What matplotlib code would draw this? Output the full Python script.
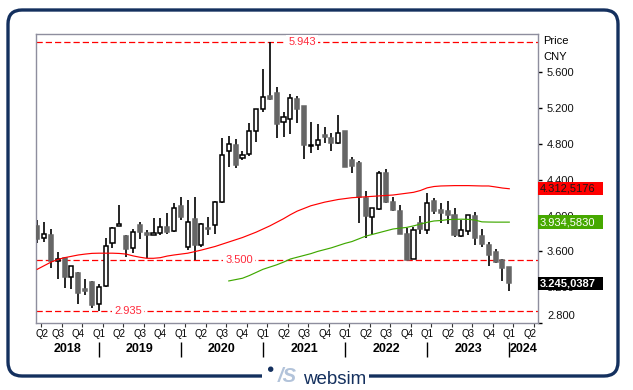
import matplotlib.pyplot as plt
from matplotlib.patches import Rectangle, FancyBboxPatch, Circle
from matplotlib.transforms import ScaledTranslation, blended_transform_factory

plt.rcParams['font.family'] = ['Liberation Sans', 'DejaVu Sans']

# monthly candles, Apr 2018 .. Jan 2024
opens = [3.884, 3.753, 3.783, 3.489, 3.523, 3.311, 3.362, 3.180, 3.261,
         3.009, 3.217, 3.690, 3.887, 3.772, 3.635, 3.895, 3.800, 3.787, 3.802, 3.869, 3.828,
         4.107, 3.653, 3.962, 3.672, 3.860, 3.895, 4.155, 4.722, 4.789, 4.640, 4.688, 4.945,
         5.188, 5.336, 5.373, 5.042, 5.076, 5.299, 5.225, 4.780, 4.785, 4.901, 4.864, 4.808,
         4.945, 4.621, 4.591, 4.193, 3.981, 4.070, 4.473, 4.155, 4.051, 3.794, 3.512, 3.921,
         3.839, 4.163, 4.063, 4.051, 4.007, 3.775, 3.831, 3.996, 3.772, 3.672, 3.593, 3.504,
         3.429]
highs = [3.951, 3.928, 3.850, 3.590, 3.541, 3.440, 3.370, 3.288, 3.273,
         3.236, 3.753, 3.870, 4.118, 3.780, 3.850, 3.932, 3.839, 3.970, 3.970, 4.026, 4.137,
         4.204, 4.174, 4.211, 3.920, 3.988, 4.163, 4.870, 4.889, 4.856, 4.725, 5.038, 5.190,
         5.635, 5.943, 5.434, 5.161, 5.359, 5.336, 5.230, 5.042, 5.023, 4.987, 4.926, 5.124,
         4.950, 4.651, 4.610, 4.275, 4.090, 4.502, 4.517, 4.211, 4.118, 3.858, 3.876, 3.999,
         4.256, 4.200, 4.137, 4.163, 4.082, 3.951, 4.007, 4.044, 3.850, 3.708, 3.623, 3.510,
         3.430]
lows = [3.697, 3.708, 3.411, 3.288, 3.194, 3.180, 3.012, 3.113, 2.964,
        2.935, 3.206, 3.635, 3.880, 3.541, 3.579, 3.735, 3.530, 3.780, 3.780, 3.794, 3.820,
        3.951, 3.616, 3.500, 3.653, 3.783, 3.794, 4.144, 4.546, 4.528, 4.621, 4.666, 4.826,
        5.161, 5.292, 4.864, 4.875, 4.908, 5.038, 4.632, 4.703, 4.733, 4.815, 4.725, 4.800,
        4.540, 4.473, 3.921, 3.746, 3.794, 4.065, 4.144, 4.055, 3.790, 3.500, 3.510, 3.794,
        3.794, 4.015, 3.921, 3.906, 3.764, 3.764, 3.783, 3.672, 3.653, 3.437, 3.467, 3.273,
        3.161]
closes = [3.742, 3.791, 3.493, 3.515, 3.317, 3.437, 3.139, 3.161, 3.001,
          3.206, 3.660, 3.865, 3.906, 3.623, 3.813, 3.820, 3.787, 3.800, 3.869, 3.813, 4.082,
          3.988, 3.925, 3.672, 3.903, 3.855, 4.149, 4.674, 4.797, 4.565, 4.677, 4.945, 5.188,
          5.329, 5.306, 5.023, 5.098, 5.311, 5.194, 4.789, 4.790, 4.845, 4.882, 4.808, 4.920,
          4.546, 4.558, 4.204, 3.996, 4.082, 4.473, 4.155, 4.063, 3.791, 3.504, 3.839, 3.850,
          4.137, 4.055, 4.032, 4.007, 3.783, 3.839, 4.007, 3.753, 3.679, 3.560, 3.485, 3.418,
          3.245]

ma_red = [3.40, 3.44, 3.48, 3.51, 3.53, 3.545, 3.56, 3.57, 3.578,
          3.58, 3.58, 3.58, 3.577, 3.57, 3.55, 3.535, 3.523, 3.523, 3.53, 3.548, 3.56,
          3.57, 3.58, 3.597, 3.615, 3.635, 3.655, 3.68, 3.705, 3.73, 3.755, 3.785, 3.815,
          3.85, 3.885, 3.925, 3.965, 4.01, 4.05, 4.08, 4.11, 4.13, 4.15, 4.165, 4.18,
          4.19, 4.20, 4.205, 4.21, 4.215, 4.22, 4.225, 4.23, 4.24, 4.25, 4.26, 4.28,
          4.31, 4.325, 4.331, 4.333, 4.335, 4.335, 4.335, 4.333, 4.331, 4.331, 4.32, 4.308,
          4.30]
green_start = 28
ma_green = [3.27, 3.285, 3.30, 3.33, 3.365,
            3.40, 3.425, 3.45, 3.48, 3.515, 3.535, 3.555, 3.575, 3.60, 3.62, 3.64, 3.665,
            3.69, 3.71, 3.74, 3.77, 3.79, 3.81, 3.83, 3.85, 3.86, 3.868, 3.885, 3.905,
            3.925, 3.94, 3.945, 3.955, 3.958, 3.96, 3.958, 3.95, 3.93, 3.928, 3.927, 3.927,
            3.927]

levels = [5.943, 3.500, 2.935]
level_texts = ['5.943', '3.500', '2.935']
last_texts = ['4.312,5176', '3.934,5830', '3.245,0387']

quarters = ['Q2', 'Q3', 'Q4'] + ['Q1', 'Q2', 'Q3', 'Q4'] * 5 + ['Q1', 'Q2']
years = ['2018', '2019', '2020', '2021', '2022', '2023', '2024']
yticks = [2.8, 3.2, 3.6, 4.0, 4.4, 4.8, 5.2, 5.6]

navy = '#14305e'

fig = plt.figure(figsize=(6.33, 3.90), dpi=100)

# background / frame layer in pixel coordinates
bg = fig.add_axes([0, 0, 1, 1], zorder=0)
bg.set_xlim(0, 633)
bg.set_ylim(390, 0)
bg.axis('off')
bg.add_patch(FancyBboxPatch((8, 10), 610, 366, boxstyle='round,pad=0,rounding_size=14',
                            facecolor='white', edgecolor=navy, lw=2.4))
bg.add_patch(Rectangle((262, 368), 107, 16, facecolor='white', edgecolor='none', zorder=3))
bg.add_patch(Circle((270.7, 369.2), 2.0, color=navy, zorder=4))
bg.text(287, 376, '/S', fontsize=14.5, fontweight='bold', style='italic', color='#b2c3da',
        ha='center', va='center', zorder=4)
bg.text(303, 383.5, 'websim', fontsize=13.5, color=navy, ha='left', va='baseline', zorder=4)

ax = fig.add_axes([36 / 633, 1 - 323 / 390, 502 / 633, 289 / 390], zorder=1)
ax.set_xlim(-0.18, 73.2)
ax.set_ylim(2.8, 6.029)

n = len(opens)
for i in range(n):
    o, h, l, c = opens[i], highs[i], lows[i], closes[i]
    ax.vlines(i, l, h, color='black', lw=1.2, zorder=2)
    bottom = min(o, c)
    height = max(abs(c - o), 0.012)
    if c >= o:
        fc, ec = 'white', 'black'
    else:
        fc, ec = '#666666', '#666666'
    ax.add_patch(Rectangle((i - 0.3, bottom), 0.6, height, facecolor=fc, edgecolor=ec,
                           lw=1.1, zorder=3))

ax.plot(range(n), ma_red, color='#ff0000', lw=0.85, zorder=4)
ax.plot(range(green_start, green_start + len(ma_green)), ma_green, color='#3fa800', lw=0.85,
        zorder=4)

level_x = [38.7, 29.5, 13.3]
for lv, txt, lx in zip(levels, level_texts, level_x):
    ax.axhline(lv, color='#ff0000', lw=0.9, dashes=(5, 2.4), zorder=1.5)
    ax.text(lx, lv, txt, fontsize=8, color='#ff2a3c', ha='center', va='center', zorder=5,
            bbox=dict(facecolor='white', edgecolor='none', pad=1.5))

# right price axis
ax.yaxis.tick_right()
ax.set_yticks(yticks)
ax.set_yticklabels([f'{v:.3f}' for v in yticks], fontsize=8, color='#111111')
ax.tick_params(axis='y', direction='out', length=3, width=1, pad=3.5, color='black')
lbl = ax.get_yticklabels()[0]
lbl.set_transform(lbl.get_transform() + ScaledTranslation(0, 8 / 100, fig.dpi_scale_trans))
ax.set_xticks([])
for sp in ax.spines.values():
    sp.set_color('#8e8e9e')
    sp.set_linewidth(1.0)

ax.text(1.01, 0.976, 'Price', transform=ax.transAxes, fontsize=8, va='center', ha='left')
ax.text(1.01, 0.920, 'CNY', transform=ax.transAxes, fontsize=8, va='center', ha='left')

# last value boxes (they cover the price labels behind them, as in the original)
trans_y = blended_transform_factory(ax.transAxes, ax.transData)
box_h = 13.3 / 89.5
box_vals = [ma_red[-1], ma_green[-1], closes[-1] - 0.006]
box_cols = ['#ff0000', '#46a800', '#000000']
txt_cols = ['#1a1a1a', 'white', 'white']
txt_w = ['normal', 'normal', 'bold']
for v, t, bc, tc, fw in zip(box_vals, last_texts, box_cols, txt_cols, txt_w):
    ax.add_patch(Rectangle((1.0, v - box_h / 2), 65 / 502, box_h, transform=trans_y,
                           facecolor=bc, edgecolor='none', clip_on=False, zorder=10))
    ax.text(1.003, v, t, transform=trans_y, fontsize=8, color=tc, fontweight=fw,
            ha='left', va='center', zorder=11, clip_on=False)

# time axis labels
trans_x = blended_transform_factory(ax.transData, ax.transAxes)
for k, q in enumerate(quarters):
    x = 3 * k if k > 0 else 0.75
    ax.text(x, -0.038, q, transform=trans_x, fontsize=7, ha='center', va='center',
            clip_on=False)
    ax.vlines(3 * k + 0.6, -0.013, 0, transform=trans_x, color='#333333', lw=0.8,
              clip_on=False)
year_x = [4.4, 15, 27, 39, 51, 63, 71.1]
for x, y in zip(year_x, years):
    ax.text(x, -0.091, y, transform=trans_x, fontsize=9, fontweight='bold', ha='center',
            va='center', clip_on=False)
for sep in [9, 21, 33, 45, 57, 69]:
    ax.vlines(sep, -0.1166, -0.0647, transform=trans_x, color='black', lw=1.0,
              clip_on=False)

fig.savefig('out.png', dpi=100)
